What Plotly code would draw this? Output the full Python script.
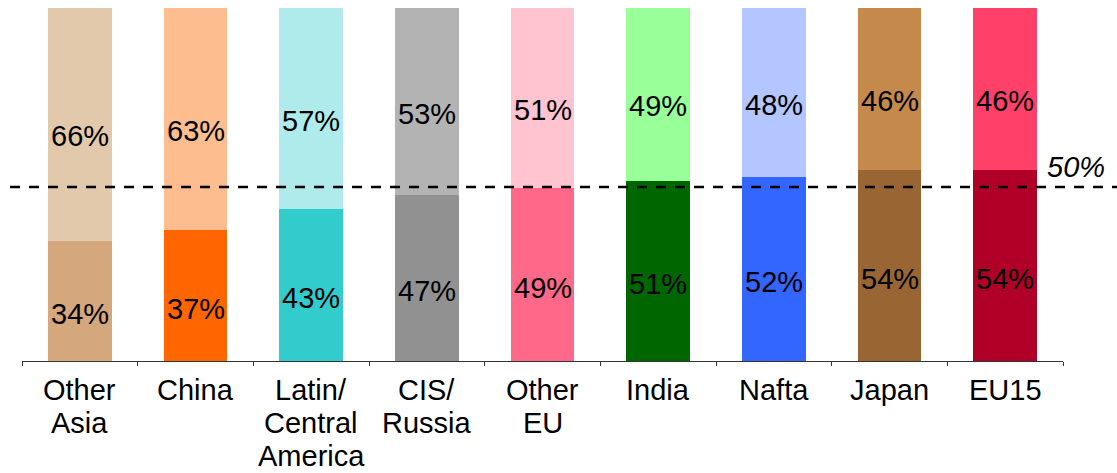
import plotly.graph_objects as go

categories = ["Other<br>Asia", "China", "Latin/<br>Central<br>America", "CIS/<br>Russia",
              "Other<br>EU", "India", "Nafta", "Japan", "EU15"]
bottom_vals = [34, 37, 43, 47, 49, 51, 52, 54, 54]
top_vals = [66, 63, 57, 53, 51, 49, 48, 46, 46]
bottom_colors = ["#D4A87C", "#FF6600", "#33CCCC", "#919191", "#FF6888",
                 "#006600", "#3366FF", "#996633", "#B00028"]
top_colors = ["#E3C9AB", "#FDBD8F", "#AFEBEB", "#B3B3B3", "#FFC4D0",
              "#99FF99", "#B3C6FF", "#C4894B", "#FF4068"]
ref_value = 50

FONT = "Liberation Sans, Arial, sans-serif"
FS = 29

fig = go.Figure()
fig.add_trace(go.Bar(x=categories, y=bottom_vals, marker=dict(color=bottom_colors, line=dict(width=0)),
                     hoverinfo="skip"))
fig.add_trace(go.Bar(x=categories, y=top_vals, marker=dict(color=top_colors, line=dict(width=0)),
                     hoverinfo="skip"))

annotations = []
for c, b, t in zip(categories, bottom_vals, top_vals):
    annotations.append(dict(x=c, y=b / 2, text=f"{b}%", showarrow=False, yshift=-13,
                            font=dict(size=FS, color="black", family=FONT)))
    annotations.append(dict(x=c, y=b + t / 2, text=f"{t}%", showarrow=False, yshift=-12,
                            font=dict(size=FS, color="black", family=FONT)))
    # category labels, one line at a time (tighter line spacing than plotly's default)
    for i, line in enumerate(c.split("<br>")):
        annotations.append(dict(x=c, y=0, text=line, showarrow=False, yanchor="middle",
                                yshift=-(29 + 33 * i),
                                font=dict(size=FS, color="black", family=FONT)))
annotations.append(dict(xref="paper", x=1.0125, xanchor="center", y=ref_value, yref="y",
                        text="<i>50%</i>", showarrow=False, yshift=18,
                        font=dict(size=FS, color="black", family=FONT)))

fig.add_shape(type="line", xref="paper", yref="y", ysizemode="pixel", yanchor=ref_value,
              x0=-0.0115, x1=1.06, y0=-2.5, y1=-2.5,
              line=dict(color="black", width=2.6, dash="10px,9px"), layer="above")

fig.update_layout(
    barmode="stack",
    bargap=0.447,
    width=1117, height=473,
    margin=dict(l=22, r=54, t=8, b=112),
    paper_bgcolor="white", plot_bgcolor="white",
    showlegend=False,
    annotations=annotations,
    font=dict(family=FONT, size=FS, color="black"),
)
fig.update_xaxes(showline=True, linecolor="#333333", linewidth=1.2, ticks="outside",
                 tickson="boundaries", ticklen=4, tickcolor="#333333", tickwidth=1,
                 showticklabels=False, showgrid=False)
fig.update_yaxes(range=[0, 100], visible=False, showgrid=False, zeroline=False)

fig.write_html("out.html")
